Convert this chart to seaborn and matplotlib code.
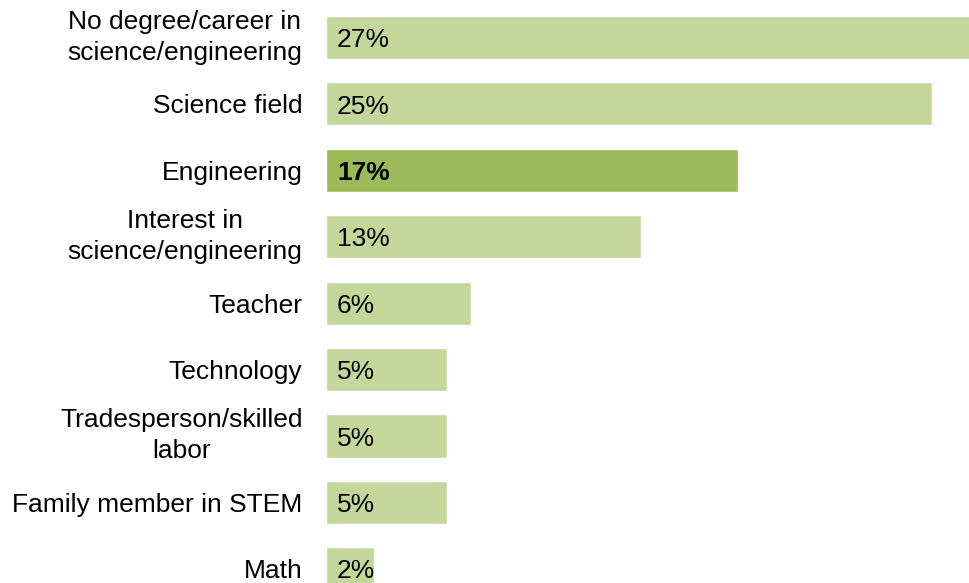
import matplotlib
matplotlib.use("Agg")
import matplotlib.pyplot as plt
import seaborn as sns
import pandas as pd

categories = [
    "No degree/career in\nscience/engineering",
    "Science field",
    "Engineering",
    "Interest in\nscience/engineering",
    "Teacher",
    "Technology",
    "Tradesperson/skilled\nlabor",
    "Family member in STEM",
    "Math",
]
values = [27, 25, 17, 13, 6, 5, 5, 5, 2]
highlight = "Engineering"

light_green = "#C4D79B"
dark_green = "#9BBB59"

sns.set_theme(style="white")
plt.rcParams["font.family"] = ["Liberation Sans", "DejaVu Sans"]

df = pd.DataFrame({"category": categories, "value": values})
palette = {c: (dark_green if c == highlight else light_green) for c in categories}

fig = plt.figure(figsize=(9.69, 5.83), dpi=100)
ax = fig.add_axes([326 / 969, 0, 643 / 969, 1])

sns.barplot(data=df, y="category", x="value", hue="category", palette=palette,
            order=categories, orient="h", width=0.65, legend=False,
            saturation=1, ax=ax)

ax.set_xlim(0, 26.54)
ax.set_ylim(8.215, -0.565)

for i, (c, v) in enumerate(zip(categories, values)):
    ax.text(0.45, i + 0.04, f"{v}%", va="center", ha="left", fontsize=19,
            color="black", fontweight="bold" if c == highlight else "normal")

ax.set_xlabel("")
ax.set_ylabel("")
ax.set_xticks([])
ax.tick_params(axis="y", length=0, pad=17, labelsize=19, labelcolor="black")
for lbl in ax.get_yticklabels():
    lbl.set_multialignment("center")
    lbl.set_linespacing(1.37)
    if "\n" in lbl.get_text():
        lbl.set_verticalalignment("center")
for s in ax.spines.values():
    s.set_visible(False)

fig.savefig("out.png", dpi=100)
